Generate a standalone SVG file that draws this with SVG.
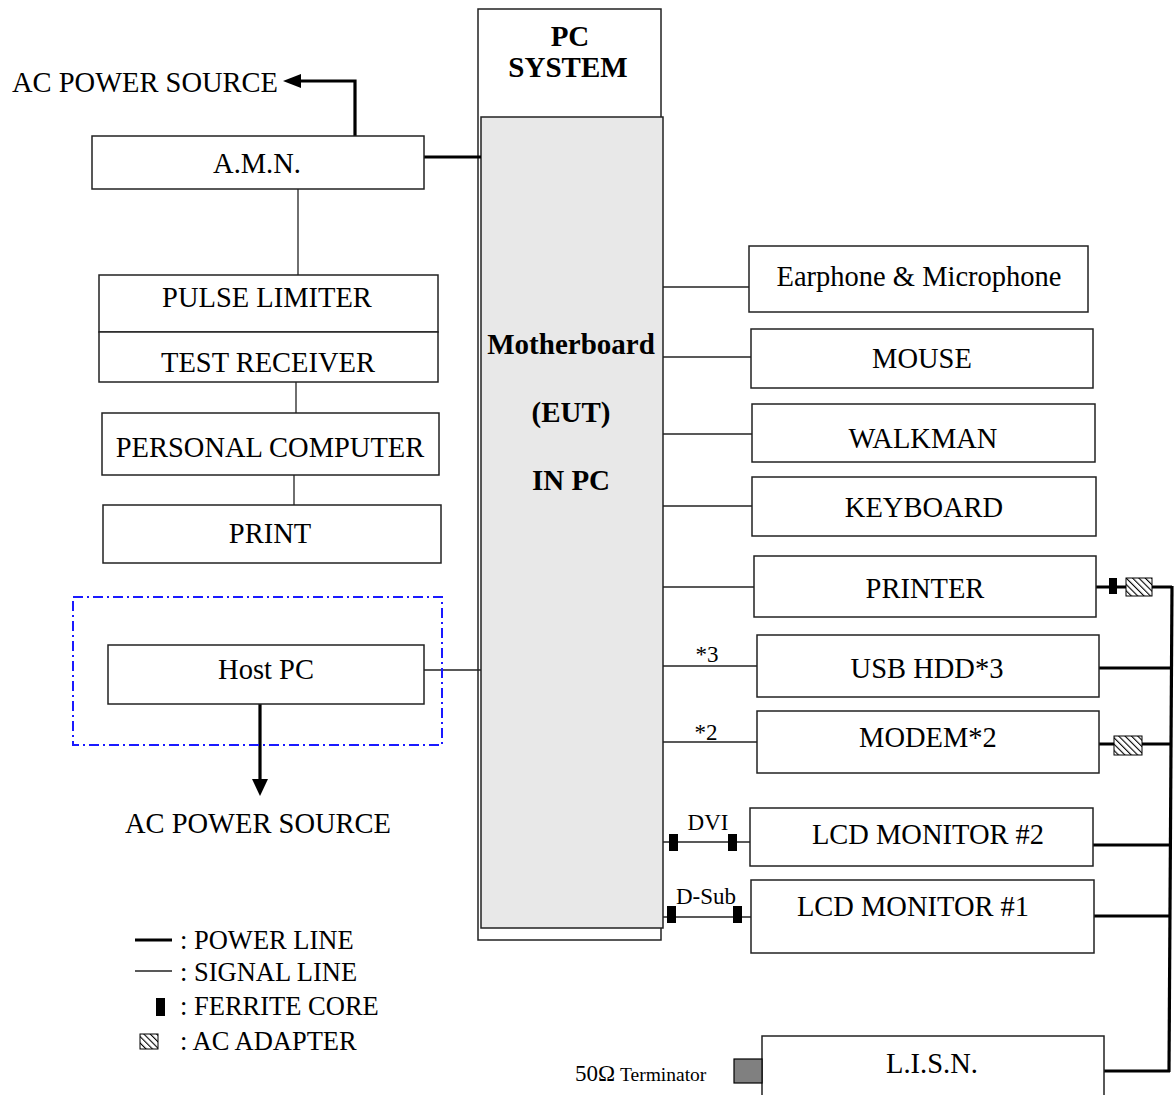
<svg xmlns="http://www.w3.org/2000/svg" width="1176" height="1095" viewBox="0 0 1176 1095">
<style>
text{font-family:"Liberation Serif","Times New Roman",serif;fill:#000}
.t{font-size:28.5px;text-anchor:middle}
.b{font-weight:bold;font-size:29px;text-anchor:middle}
.s{font-size:23px;text-anchor:middle}
.lg{font-size:26.5px}
.box{fill:#fff;stroke:#222;stroke-width:1.5}
.sig{stroke:#222;stroke-width:1.3;fill:none}
.pwr{stroke:#000;stroke-width:3.2;fill:none}
.fc{fill:#000}
.ad{fill:url(#hatch);stroke:#000;stroke-width:1}
</style>
<defs>
<pattern id="hatch" patternUnits="userSpaceOnUse" width="4.5" height="4.5" patternTransform="rotate(-45)">
<rect width="4.5" height="4.5" fill="#fff"/>
<line x1="0" y1="0" x2="0" y2="4.5" stroke="#000" stroke-width="2.2"/>
</pattern>
</defs>
<rect width="1176" height="1095" fill="#fff"/>

<g id="pc-system">
<rect x="478" y="9" width="183" height="931" class="box"/>
<text x="570" y="46" class="b">PC</text>
<text x="568" y="77" class="b">SYSTEM</text>
</g>
<g id="motherboard">
<rect x="481" y="117" width="182" height="811" fill="#e8e8e8" stroke="#222" stroke-width="1.5"/>
<text x="571" y="354" class="b">Motherboard</text>
<text x="571" y="422" class="b">(EUT)</text>
<text x="571" y="490" class="b">IN PC</text>
</g>

<g id="connectors">
<path class="pwr" d="M355,136 V81 H300"/>
<path d="M283,81 L301,74 L301,88 Z" fill="#000"/>
<path class="pwr" d="M424,157 H481"/>
<path class="sig" d="M298,189 V275"/>
<path class="sig" d="M296,382 V413"/>
<path class="sig" d="M294,475 V505"/>
<path class="sig" d="M424,670 H481"/>
<path class="pwr" d="M260,704 V782"/>
<path d="M252,779 L268,779 L260,796 Z" fill="#000"/>
<path class="sig" d="M663,287 H749"/>
<path class="sig" d="M663,357 H751"/>
<path class="sig" d="M663,434 H752"/>
<path class="sig" d="M663,506 H752"/>
<path class="sig" d="M663,587 H754"/>
<path class="sig" d="M663,666 H757"/>
<path class="sig" d="M663,742 H757"/>
<path class="sig" d="M663,842 H750"/>
<path class="sig" d="M663,917 H751"/>
<rect class="fc" x="669" y="834" width="9" height="17"/>
<rect class="fc" x="728" y="834" width="9" height="17"/>
<rect class="fc" x="667" y="906" width="9" height="17"/>
<rect class="fc" x="733" y="906" width="9" height="17"/>
<path class="pwr" d="M1096,587 H1172"/>
<rect class="fc" x="1109" y="578" width="8" height="16"/>
<rect class="ad" x="1126" y="578" width="26" height="18"/>
<path class="pwr" d="M1099,668 H1171"/>
<path class="pwr" d="M1099,744 H1171"/>
<rect class="ad" x="1114" y="736" width="28" height="19"/>
<path class="pwr" d="M1093,845 H1170"/>
<path class="pwr" d="M1094,916 H1170"/>
<path class="pwr" d="M1104,1071 H1170"/>
<path class="pwr" d="M1172,586 L1169,1072"/>
</g>

<text x="12" y="92" style="font-size:28.5px">AC POWER SOURCE</text>
<g id="amn"><rect x="92" y="136" width="332" height="53" class="box"/><text x="257" y="173" class="t">A.M.N.</text></g>
<g id="pulse-limiter"><rect x="99" y="275" width="339" height="57" class="box"/><text x="267" y="307" class="t">PULSE LIMITER</text></g>
<g id="test-receiver"><rect x="99" y="332" width="339" height="50" class="box"/><text x="268" y="372" class="t">TEST RECEIVER</text></g>
<g id="personal-computer"><rect x="102" y="413" width="337" height="62" class="box"/><text x="270" y="457" class="t">PERSONAL COMPUTER</text></g>
<g id="print"><rect x="103" y="505" width="338" height="58" class="box"/><text x="270" y="543" class="t">PRINT</text></g>
<g id="host-area"><rect x="73" y="597" width="369" height="148" fill="none" stroke="#1a1aff" stroke-width="2" stroke-dasharray="10,4,2,4"/></g>
<g id="host-pc"><rect x="108" y="645" width="316" height="59" class="box"/><text x="266" y="679" class="t">Host PC</text></g>
<text x="258" y="833" class="t">AC POWER SOURCE</text>

<g id="earphone"><rect x="749" y="246" width="339" height="66" class="box"/><text x="919" y="286" class="t">Earphone &amp; Microphone</text></g>
<g id="mouse"><rect x="751" y="329" width="342" height="59" class="box"/><text x="922" y="368" class="t">MOUSE</text></g>
<g id="walkman"><rect x="752" y="404" width="343" height="58" class="box"/><text x="923" y="448" class="t">WALKMAN</text></g>
<g id="keyboard"><rect x="752" y="477" width="344" height="59" class="box"/><text x="924" y="517" class="t">KEYBOARD</text></g>
<g id="printer"><rect x="754" y="556" width="342" height="61" class="box"/><text x="925" y="598" class="t">PRINTER</text></g>
<g id="usb-hdd"><rect x="757" y="635" width="342" height="62" class="box"/><text x="927" y="678" class="t">USB HDD*3</text><text x="707" y="662" class="s">*3</text></g>
<g id="modem"><rect x="757" y="711" width="342" height="62" class="box"/><text x="928" y="747" class="t">MODEM*2</text><text x="706" y="740" class="s">*2</text></g>
<g id="lcd2"><rect x="750" y="808" width="343" height="58" class="box"/><text x="928" y="844" class="t">LCD MONITOR #2</text><text x="708" y="830" class="s">DVI</text></g>
<g id="lcd1"><rect x="751" y="880" width="343" height="73" class="box"/><text x="913" y="916" class="t">LCD MONITOR #1</text><text x="706" y="904" class="s">D-Sub</text></g>
<g id="lisn"><rect x="762" y="1036" width="342" height="70" class="box"/><text x="932" y="1073" class="t">L.I.S.N.</text></g>
<g id="terminator"><rect x="734" y="1059" width="28" height="24" fill="#808080" stroke="#000" stroke-width="1.2"/><text x="575" y="1081" style="font-size:19.5px"><tspan style="font-size:23px">50Ω</tspan> Terminator</text></g>

<g id="legend">
<line x1="135" y1="940" x2="172" y2="940" stroke="#000" stroke-width="3.2"/>
<text x="180" y="949" class="lg">: POWER LINE</text>
<line x1="135" y1="971" x2="172" y2="971" stroke="#222" stroke-width="1.3"/>
<text x="180" y="981" class="lg">: SIGNAL LINE</text>
<rect class="fc" x="156" y="998" width="9" height="18"/>
<text x="180" y="1015" class="lg">: FERRITE CORE</text>
<rect class="ad" x="140" y="1034" width="18" height="15"/>
<text x="180" y="1050" class="lg">: AC ADAPTER</text>
</g>
</svg>
